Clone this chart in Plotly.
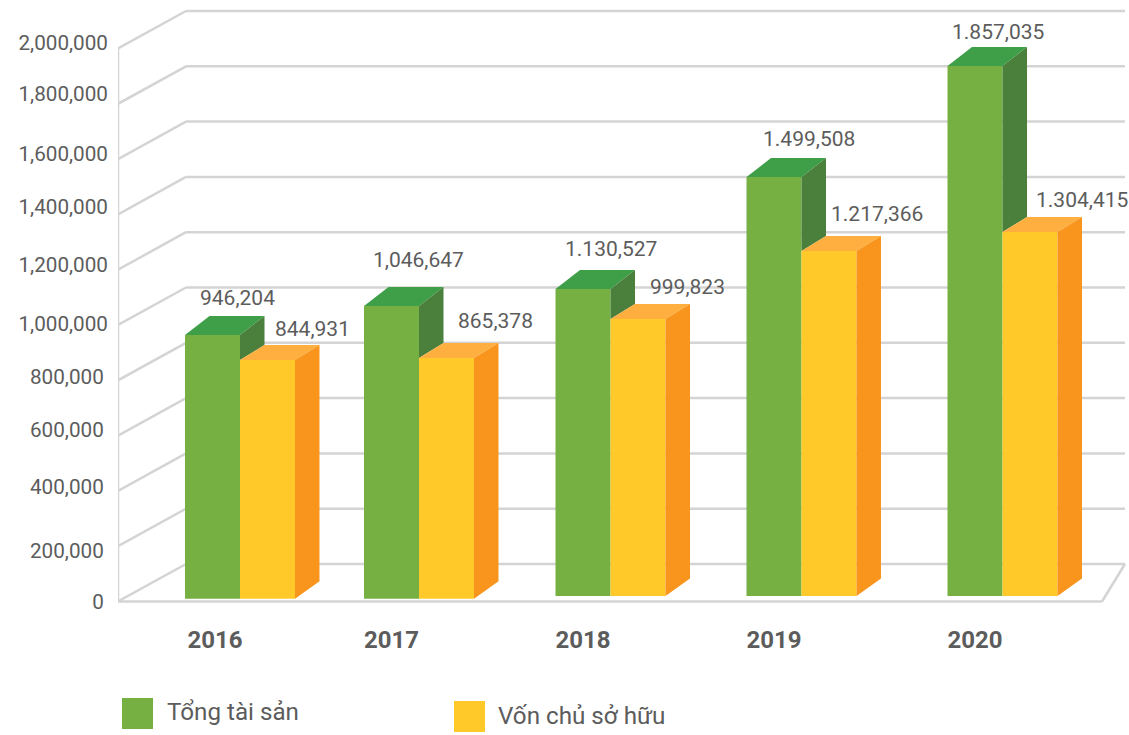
import plotly.graph_objects as go

# ---- data ----
years = ["2016", "2017", "2018", "2019", "2020"]
series_names = ["Tổng tài sản", "Vốn chủ sở hữu"]
# bar heights as drawn against the y axis (front-wall scale)
total_assets = [964000, 1069000, 1130000, 1535000, 1937000]
equity = [873000, 881000, 1022000, 1268000, 1336000]
bar_floor = [10000, 10000, 20000, 20000, 20000]
# printed labels (as in the source, mixed separators)
total_labels = ["946,204", "1,046,647", "1.130,527", "1.499,508", "1.857,035"]
equity_labels = ["844,931", "865,378", "999,823", "1.217,366", "1.304,415"]
tick_values = [0, 200000, 400000, 600000, 800000, 1000000, 1200000, 1400000, 1600000, 1800000, 2000000]
tick_labels = ["0", "200,000", "400,000", "600,000", "800,000", "1,000,000",
               "1,200,000", "1,400,000", "1,600,000", "1,800,000", "2,000,000"]

# ---- layout constants ----
W, H = 1129, 735
LEFT, PLOT_H = 118, 606
ZERO_PX = 601.5
PX_PER_UNIT = 553 / 2000000
BOUNDARY = [240, 419, 610.5, 801.5, 1002.5]  # x slot where the two bars of a year meet
BAR_W = 55
DEPTH_X = 24.5
GREEN_DEPTH, YELLOW_DEPTH, SIDE_DEPTH = 19 / PX_PER_UNIT, 15 / PX_PER_UNIT, 17.5 / PX_PER_UNIT
WALL_X, WALL_Y = 68, 37.5 / PX_PER_UNIT
FLOOR_END = 1102
GRID = "#D4D4D4"
TXT = "#5C5C5C"
GREEN, GREEN_TOP, GREEN_SIDE = "#76B043", "#3F9F49", "#4A803C"
YELLOW, YELLOW_TOP, YELLOW_SIDE = "#FFC92A", "#FEAF3F", "#F9951D"
# label placement relative to each bar's top-centre (px)
total_off = [(24.5, 37), (26.5, 46), (28, 40), (35, 38), (22.5, 34)]
equity_off = [(44.5, 31), (49, 37), (49.5, 32), (47.5, 37), (51.5, 32)]
# tick label vertical nudge in px (labels do not sit exactly on their lines)
tick_nudge = [-0.5, -4.8, 3.9, 5.6, 3.3, 1, 4.7, 7.7, 5.1, 9.8, 5.8]

fig = go.Figure()
green_x = [b - BAR_W / 2 for b in BOUNDARY]
yellow_x = [b + BAR_W / 2 for b in BOUNDARY]
year_label_x = [g + s for g, s in zip(green_x, [2.5, 0, 0, 0, 0])]

def bar(x, vals, name, colour):
    fig.add_trace(go.Bar(x=x, y=[v - f for v, f in zip(vals, bar_floor)], base=bar_floor,
                         width=BAR_W, marker=dict(color=colour, line=dict(width=0)),
                         name=name, showlegend=False, hoverinfo="skip"))

def poly(xs, ys, colour):
    fig.add_trace(go.Scatter(x=xs + xs[:1], y=ys + ys[:1], mode="lines", fill="toself",
                             fillcolor=colour, line=dict(width=0), showlegend=False, hoverinfo="skip"))

bar(green_x, total_assets, series_names[0], GREEN)
bar(yellow_x, equity, series_names[1], YELLOW)

for i, b in enumerate(BOUNDARY):
    g, y, f = total_assets[i], equity[i], bar_floor[i]
    gl, yr = b - BAR_W, b + BAR_W
    # green top and the part of its side that shows above the yellow bar
    poly([gl, b, b + DEPTH_X, gl + DEPTH_X], [g, g, g + GREEN_DEPTH, g + GREEN_DEPTH], GREEN_TOP)
    poly([b, b + DEPTH_X, b + DEPTH_X, b], [g, g + GREEN_DEPTH, y + YELLOW_DEPTH, y], GREEN_SIDE)
    # yellow top and side
    poly([b, yr, yr + DEPTH_X, b + DEPTH_X], [y, y, y + YELLOW_DEPTH, y + YELLOW_DEPTH], YELLOW_TOP)
    poly([yr, yr + DEPTH_X, yr + DEPTH_X, yr], [y, y + YELLOW_DEPTH, f + SIDE_DEPTH, f], YELLOW_SIDE)

# walls and floor, behind the bars
shapes = []
def wall(x0, y0, x1, y1):
    shapes.append(dict(type="line", xref="x", yref="y", x0=x0, y0=y0, x1=x1, y1=y1,
                       layer="below", line=dict(color=GRID, width=2.5)))
wall(LEFT, 0, LEFT, tick_values[-1])
for v in tick_values:
    wall(LEFT, v, LEFT + WALL_X, v + WALL_Y)
    wall(LEFT + WALL_X, v + WALL_Y, FLOOR_END + 23, v + WALL_Y)
wall(LEFT, 0, FLOOR_END, 0)
wall(FLOOR_END, 0, FLOOR_END + 23, WALL_Y)

# value labels
ann = []
for vals, labels, xs, offs in [(total_assets, total_labels, green_x, total_off),
                               (equity, equity_labels, yellow_x, equity_off)]:
    for v, t, x, o in zip(vals, labels, xs, offs):
        ann.append(dict(x=x, y=v, text=t, showarrow=False, xshift=o[0], yshift=o[1],
                        xanchor="center", yanchor="middle",
                        font=dict(family="Roboto", size=21, color=TXT)))

# legend
def px_x(p):
    return (p - LEFT) / (W - LEFT)
def px_y(p):
    return (PLOT_H - p) / PLOT_H
for name, colour, sx, sy, tx, ty in [(series_names[0], GREEN, 122, 698, 165, 712),
                                     (series_names[1], YELLOW, 454, 701, 496, 716)]:
    shapes.append(dict(type="rect", xref="paper", yref="paper", x0=px_x(sx), x1=px_x(sx + 31),
                       y0=px_y(sy), y1=px_y(sy + 31), fillcolor=colour, line=dict(width=0)))
    ann.append(dict(xref="paper", yref="paper", x=px_x(tx), y=px_y(ty), text=name, showarrow=False,
                    xanchor="left", yanchor="middle", font=dict(family="Roboto", size=24.2, color=TXT)))

# the shorter tick labels stop a little further left than the seven-digit ones
shown_ticks = [t if len(t) > 7 else t + "\u2009" for t in tick_labels]

fig.update_layout(
    width=W, height=H, margin=dict(l=LEFT, r=0, t=0, b=H - PLOT_H, pad=0),
    paper_bgcolor="white", plot_bgcolor="white", barmode="overlay", showlegend=False,
    shapes=shapes, annotations=ann,
    xaxis=dict(range=[LEFT, W], tickmode="array", tickvals=year_label_x, ticktext=years,
               showgrid=False, zeroline=False, showline=False, ticks="", ticklabelstandoff=17,
               tickfont=dict(family="Roboto", size=24, color=TXT, weight="bold")),
    yaxis=dict(range=[(ZERO_PX - PLOT_H) / PX_PER_UNIT, ZERO_PX / PX_PER_UNIT], tickmode="array",
               tickvals=[v + n / PX_PER_UNIT for v, n in zip(tick_values, tick_nudge)],
               ticktext=shown_ticks, showgrid=False, zeroline=False, showline=False, ticks="",
               ticklabelstandoff=9, tickfont=dict(family="Roboto", size=20.7, color=TXT)),
)
fig.write_html("out.html", config={"displayModeBar": False},
               post_script="document.body.style.margin='0';document.body.style.overflow='hidden';")
